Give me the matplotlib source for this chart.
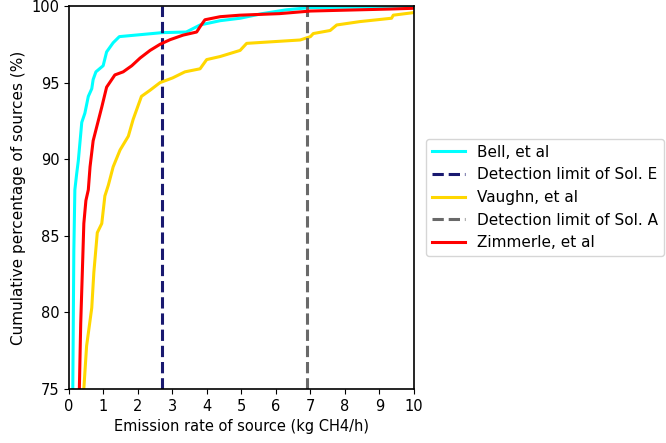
import matplotlib
matplotlib.use("Agg")
import matplotlib.pyplot as plt

# emission rate (kg CH4/h) vs cumulative % of sources
bell_x = [0.10, 0.11, 0.14, 0.17, 0.22, 0.27, 0.37, 0.46, 0.56, 0.66, 0.70, 0.78, 0.99,
          1.09, 1.28, 1.46, 2.70, 3.40, 3.80, 4.38, 4.96, 5.60, 6.30, 7.00, 10.0]
bell_y = [70.0, 75.0, 84.0, 88.0, 89.0, 89.9, 92.4, 93.0, 94.1, 94.6, 95.2, 95.7, 96.1,
          97.0, 97.6, 98.0, 98.26, 98.3, 98.76, 99.04, 99.2, 99.5, 99.75, 99.9, 99.95]

zim_x = [0.29, 0.30, 0.34, 0.40, 0.43, 0.49, 0.56, 0.61, 0.70, 0.95, 1.09, 1.33, 1.57,
         1.82, 2.06, 2.35, 2.64, 2.93, 3.31, 3.70, 3.80, 3.94, 4.38, 4.96, 6.10, 7.00,
         9.30, 10.0]
zim_y = [70.0, 75.0, 79.3, 83.6, 85.8, 87.3, 88.0, 89.5, 91.2, 93.4, 94.7, 95.5, 95.7,
         96.1, 96.6, 97.1, 97.5, 97.8, 98.1, 98.3, 98.65, 99.1, 99.3, 99.4, 99.5, 99.67,
         99.8, 99.85]

vau_x = [0.42, 0.43, 0.51, 0.66, 0.72, 0.82, 0.95, 1.04, 1.14, 1.28, 1.48, 1.72, 1.86,
         2.10, 2.35, 2.64, 3.00, 3.36, 3.80, 3.99, 4.38, 4.96, 5.15, 6.70, 7.00, 7.08,
         7.57, 7.76, 8.43, 9.35, 9.40, 10.0]
vau_y = [70.0, 75.0, 77.8, 80.3, 82.6, 85.2, 85.8, 87.6, 88.3, 89.5, 90.6, 91.5, 92.6,
         94.1, 94.5, 95.0, 95.3, 95.7, 95.9, 96.5, 96.7, 97.1, 97.56, 97.78, 98.0, 98.2,
         98.4, 98.76, 98.98, 99.2, 99.4, 99.57]

limit_e = 2.7
limit_a = 6.9

fig = plt.figure(figsize=(6.66, 4.43), dpi=100)
ax = fig.add_axes([0.1036, 0.122, 0.518, 0.8645])

ax.plot(bell_x, bell_y, color="cyan", lw=2.2, label="Bell, et al")
ax.axvline(limit_e, color="#191970", lw=2.2, ls="--", label="Detection limit of Sol. E")
ax.plot(vau_x, vau_y, color="gold", lw=2.2, label="Vaughn, et al")
ax.axvline(limit_a, color="dimgray", lw=2.2, ls="--", label="Detection limit of Sol. A")
ax.plot(zim_x, zim_y, color="red", lw=2.2, label="Zimmerle, et al")

ax.set_xlim(0, 10)
ax.set_ylim(75, 100)
ax.set_xticks(range(0, 11))
ax.set_xlabel("Emission rate of source (kg CH4/h)", fontsize=10.5)
ax.set_ylabel("Cumulative percentage of sources (%)", fontsize=11)
ax.tick_params(labelsize=10.5)
for s in ax.spines.values():
    s.set_linewidth(1.2)

ax.legend(loc="center left", bbox_to_anchor=(1.035, 0.5), borderaxespad=0,
          handlelength=2.15, fontsize=11)

fig.savefig("out.png", dpi=100)
